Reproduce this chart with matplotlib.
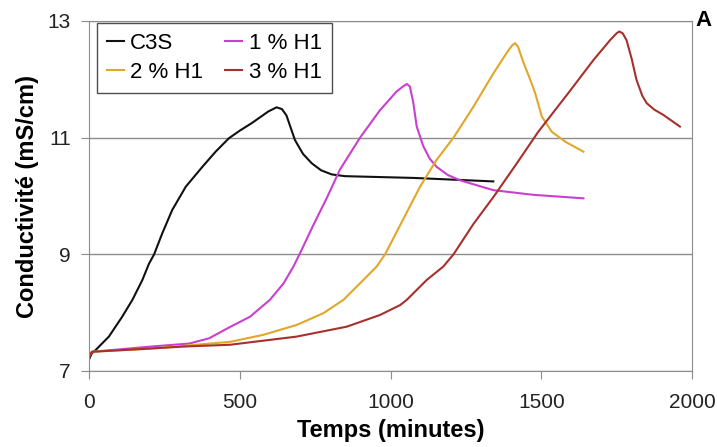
import matplotlib.pyplot as plt

plt.rcParams["font.family"] = ["Liberation Sans", "DejaVu Sans"]

# readings from the curves: time (minutes), conductivity (mS/cm)
c3s_t = [0, 9, 22, 66, 110, 144, 177, 199, 216, 243, 276, 321, 376, 420, 464,
         500, 540, 595, 622, 640, 655, 683, 710, 739, 770, 805, 849, 1076, 1341]
c3s_v = [7.2, 7.30, 7.36, 7.59, 7.93, 8.22, 8.56, 8.84, 9.0, 9.36, 9.76, 10.16,
         10.50, 10.76, 10.99, 11.12, 11.25, 11.45, 11.52, 11.49, 11.38, 10.96,
         10.72, 10.56, 10.44, 10.37, 10.34, 10.31, 10.25]

h1_t = [0, 10, 100, 208, 332, 398, 466, 534, 600, 645, 678, 700, 744, 790, 832,
        899, 965, 1020, 1042, 1054, 1064, 1075, 1087, 1109, 1130, 1153, 1190,
        1230, 1341, 1474, 1640]
h1_v = [7.25, 7.33, 7.37, 7.42, 7.47, 7.56, 7.75, 7.93, 8.22, 8.50, 8.79, 9.02,
        9.50, 9.98, 10.45, 11.0, 11.47, 11.79, 11.88, 11.92, 11.88, 11.62, 11.19,
        10.85, 10.64, 10.50, 10.36, 10.27, 10.10, 10.02, 9.96]

h2_t = [0, 10, 200, 468, 578, 689, 777, 844, 910, 954, 982, 1037, 1098, 1153,
        1209, 1275, 1341, 1385, 1403, 1413, 1423, 1440, 1463, 1480, 1502, 1535,
        1580, 1640]
h2_v = [7.25, 7.33, 7.38, 7.50, 7.62, 7.79, 7.99, 8.22, 8.56, 8.79, 9.0, 9.55,
        10.16, 10.62, 11.0, 11.53, 12.10, 12.45, 12.58, 12.62, 12.56, 12.30, 12.0,
        11.76, 11.36, 11.10, 10.93, 10.76]

h3_t = [0, 10, 150, 318, 468, 689, 855, 965, 1032, 1054, 1120, 1175, 1209,
        1275, 1341, 1419, 1490, 1595, 1673, 1728, 1750, 1759, 1770, 1783, 1800,
        1816, 1835, 1850, 1875, 1905, 1960]
h3_v = [7.25, 7.33, 7.37, 7.42, 7.45, 7.59, 7.76, 7.96, 8.13, 8.22, 8.56, 8.79,
        9.0, 9.52, 9.98, 10.56, 11.10, 11.80, 12.33, 12.67, 12.79, 12.82,
        12.79, 12.67, 12.35, 11.99, 11.72, 11.59, 11.48, 11.39, 11.19]

series = [
    ("C3S", c3s_t, c3s_v, "#111111"),
    ("1 % H1", h1_t, h1_v, "#c93fcf"),
    ("2 % H1", h2_t, h2_v, "#e2a62a"),
    ("3 % H1", h3_t, h3_v, "#a8302c"),
]

fig = plt.figure(figsize=(7.17, 4.47), dpi=100)
ax = fig.add_axes([89 / 717, 1 - 371 / 447, 603 / 717, 350 / 447])

for name, t, v, col in series:
    ax.plot(t, v, color=col, lw=1.5, label=name, solid_joinstyle="round")

ax.set_xlim(0, 2000)
ax.set_ylim(7, 13)
ax.set_xticks([0, 500, 1000, 1500, 2000])
ax.set_yticks([7, 9, 11, 13])
ax.yaxis.grid(True, color="#8c8c8c", lw=1.0)
ax.set_axisbelow(True)
for s in ax.spines.values():
    s.set_color("#8c8c8c")
ax.tick_params(axis="both", labelsize=15, color="#8c8c8c", length=6, labelcolor="#222222")
ax.tick_params(axis="y", pad=7)
ax.tick_params(axis="x", pad=10)

ax.set_xlabel("Temps (minutes)", fontsize=17, fontweight="bold", labelpad=5)
ax.set_ylabel("Conductivité (mS/cm)", fontsize=17, fontweight="bold", labelpad=6)

# legend order: C3S, 1 % H1 on top row; 2 % H1, 3 % H1 below
h, l = ax.get_legend_handles_labels()
order = [0, 2, 1, 3]
leg = ax.legend([h[i] for i in order], [l[i] for i in order], ncol=2,
                loc="upper left", bbox_to_anchor=(0.013, 0.995), fontsize=16,
                handlelength=0.75, handletextpad=0.3, columnspacing=1.0,
                borderpad=0.45, labelspacing=0.35, frameon=True, fancybox=False,
                borderaxespad=0)
leg.get_frame().set_edgecolor("#222222")
leg.get_frame().set_linewidth(1.0)

fig.text(704 / 717, 1 - 21 / 447, "A", fontsize=16, fontweight="bold",
         ha="center", va="center")

fig.savefig("out.png", dpi=100)
